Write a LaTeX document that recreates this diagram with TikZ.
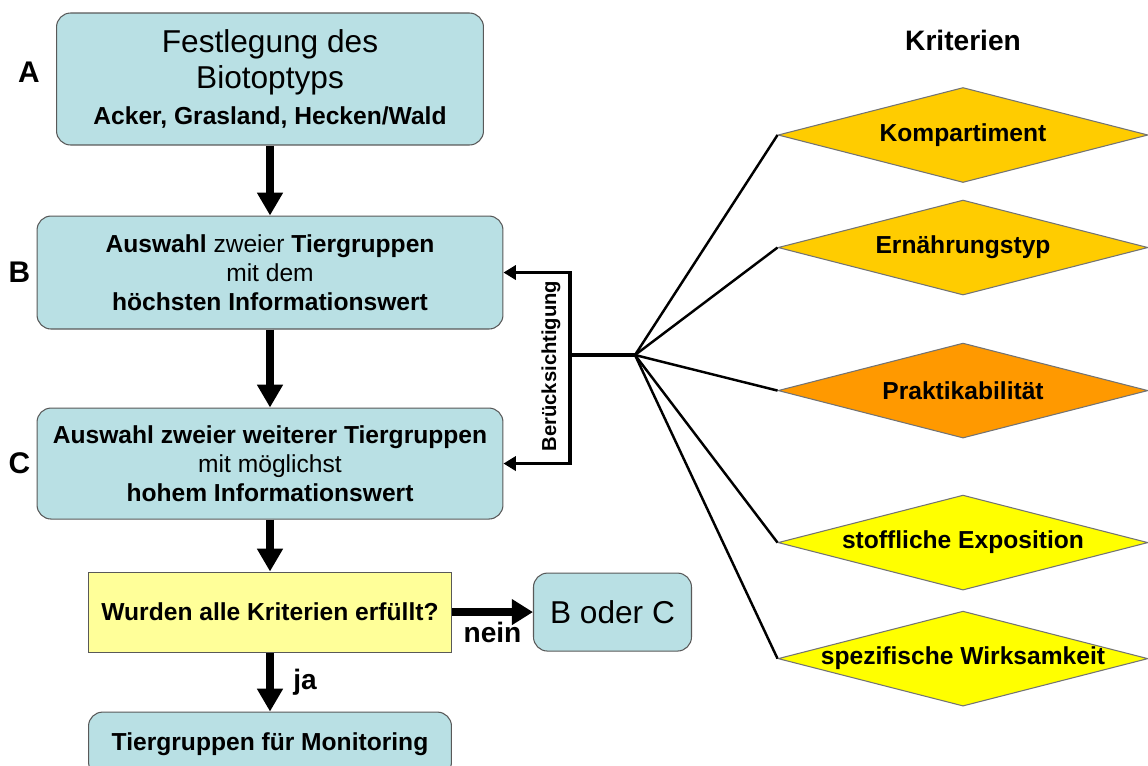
\documentclass[tikz,border=0pt]{standalone}
\usepackage{fontspec}
\setmainfont{Liberation Sans}
\usepackage{xcolor}
\usetikzlibrary{shapes.geometric,arrows.meta,positioning}

\definecolor{boxteal}{RGB}{185,224,228}
\definecolor{askyellow}{RGB}{255,255,153}
\definecolor{critgold}{RGB}{255,204,0}
\definecolor{critorange}{RGB}{255,153,0}
\definecolor{crityellow}{RGB}{255,255,0}

\begin{document}
\begin{tikzpicture}[
  x=0.02cm, y=-0.02cm,
  every node/.style={align=center},
  stage/.style={rectangle, rounded corners=8pt, draw=black!65, line width=0.6pt, fill=boxteal, minimum width=9.32cm, minimum height=2.26cm, font=\fontsize{14}{16.5}\selectfont},
  ask/.style={rectangle, draw=black!65, line width=0.6pt, fill=askyellow, minimum width=7.26cm, minimum height=1.6cm, font=\bfseries\fontsize{14}{16.5}\selectfont},
  crit/.style={diamond, draw=black!55, line width=0.6pt, minimum width=7.4cm, minimum height=1.9cm, inner sep=0pt, label={[font=\bfseries\fontsize{14}{16}\selectfont]center:#1}},
  tag/.style={font=\bfseries\fontsize{17}{20}\selectfont},
  lbl/.style={font=\bfseries\fontsize{16}{18}\selectfont},
  flow/.style={draw=black, line width=4pt, -{Triangle[length=13pt,width=14pt]}},
  flowwide/.style={draw=black, line width=5pt, -{Triangle[length=12pt,width=14pt]}},
  back/.style={draw=black, line width=2.2pt, -{Triangle[length=7pt,width=8pt]}},
  hubline/.style={draw=black, line width=2.6pt},
  spoke/.style={draw=black, line width=1.4pt}
]
  \useasboundingbox (0,0) rectangle (1148,765);

  \node[stage, minimum width=8.54cm, minimum height=2.64cm, font=\fontsize{18}{20.5}\selectfont] (A) at (270,79) {Festlegung des\\Biotoptyps\\ \fontsize{14}{19.5}\selectfont\bfseries Acker, Grasland, Hecken/Wald};
  \node[stage, below=1.4cm of A] (B) {\textbf{Auswahl} zweier \textbf{Tiergruppen}\\mit dem\\\textbf{höchsten Informationswert}};
  \node[stage, below=1.56cm of B, minimum height=2.22cm] (C) {\textbf{Auswahl zweier weiterer Tiergruppen}\\mit möglichst\\\textbf{hohem Informationswert}};
  \node[ask, below=1.04cm of C] (D) {Wurden alle Kriterien erfüllt?};
  \node[stage, right=1.62cm of D, minimum width=3.16cm, minimum height=1.56cm, font=\fontsize{18}{20}\selectfont] (E) {B oder C};
  \node[stage, below=1.18cm of D, minimum width=7.26cm, minimum height=1.28cm, font=\bfseries\fontsize{14}{16.5}\selectfont] (F) {Tiergruppen für Monitoring};

  \node[tag, left=0.2cm of A, yshift=0.14cm] (la) {A};
  \node[tag, left=0pt of B] (lb) {B};
  \node[tag, left=0pt of C] (lc) {C};

  \node[font=\bfseries\fontsize{16}{18}\selectfont] (kt) at (963,40) {Kriterien};
  \node[crit=Kompartiment, fill=critgold] (k1) at (963,135) {};
  \node[crit=Ernährungstyp, fill=critgold, below=0.33cm of k1] (k2) {};
  \node[crit=Praktikabilität, fill=critorange, below=0.94cm of k2] (k3) {};
  \node[crit=stoffliche Exposition, fill=crityellow, below=1.12cm of k3] (k4) {};
  \node[crit=spezifische Wirksamkeit, fill=crityellow, below=0.4cm of k4] (k5) {};

  \coordinate (br) at (570,355);
  \coordinate (hub) at (635,355);
  \node[rotate=90, font=\bfseries\fontsize{11.5}{13}\selectfont] (bk) at (551,366) {Berücksichtigung};

  \draw[flow] (A) -- (B);
  \draw[flow] (B) -- (C);
  \draw[flow] (C.south -| D.north) -- (D);
  \draw[flow] (D) -- node[lbl, right=8pt] (ja) {ja} (F);
  \draw[flowwide] (D) -- node[lbl, below] (nein) {nein} (E);

  \draw[back] (br) |- (B);
  \draw[back] (br) |- (C);
  \draw[hubline] (br) -- (hub);
  \foreach \k in {k1,k2,k3,k4,k5}
    \draw[spoke] (hub) -- (\k.west);
\end{tikzpicture}
\end{document}
